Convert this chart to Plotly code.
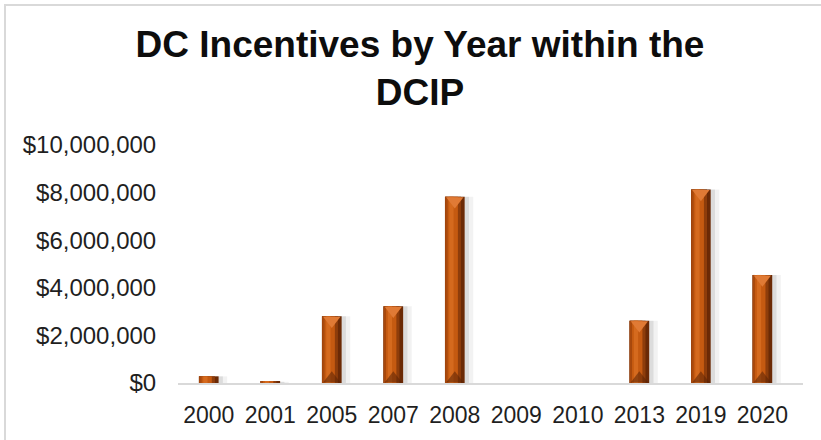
import plotly.graph_objects as go

# ---- data ----
years = ["2000", "2001", "2005", "2007", "2008", "2009", "2010", "2013", "2019", "2020"]
incentives = [280000, 50000, 2800000, 3220000, 7830000, 0, 0, 2620000, 8130000, 4540000]
y_ticks = [0, 2000000, 4000000, 6000000, 8000000, 10000000]
y_tick_labels = ["$0", "$2,000,000", "$4,000,000", "$6,000,000", "$8,000,000", "$10,000,000"]
title_text = "DC Incentives by Year within the<br>DCIP"

# ---- layout constants (pixels) ----
W, H = 821, 440
L, R, T, B = 178, 18, 145, 57
YMAX = 10000000
plot_h = H - T - B
data_per_px = YMAX / plot_h

fig = go.Figure()

def layer(offset, width, color):
    fig.add_trace(go.Bar(
        x=years, y=incentives, offset=offset, width=width,
        marker=dict(color=color, line=dict(width=0)),
        hoverinfo="skip", showlegend=False))

# soft shadow to the right
layer(-0.12, 0.42, "rgba(0,0,0,0.05)")
layer(-0.13, 0.36, "rgba(0,0,0,0.09)")
# bar body with bevelled look
layer(-0.16, 0.32, "#6B2A06")
layer(-0.16, 0.26, "#8E3D0B")
layer(-0.155, 0.035, "#A9490D")
layer(-0.12, 0.17, "#C55A11")
layer(-0.09, 0.07, "#D56A1E")

# bevel triangles at top / bottom for taller bars
tall_x = [x for x, v in zip(years, incentives) if v > 1000000]
tall_v = [v for v in incentives if v > 1000000]
tri_size = 15
r = tri_size / 2
fig.add_trace(go.Scatter(
    x=tall_x, y=[v - (r / 2 + 0.5) * data_per_px for v in tall_v], mode="markers",
    marker=dict(symbol="triangle-down", size=tri_size, color="#E07A35", line=dict(width=0)),
    hoverinfo="skip", showlegend=False, cliponaxis=False))
fig.add_trace(go.Scatter(
    x=tall_x, y=[(r / 2 + 0.5) * data_per_px for _ in tall_v], mode="markers",
    marker=dict(symbol="triangle-up", size=tri_size, color="rgba(90,35,5,0.55)", line=dict(width=0)),
    hoverinfo="skip", showlegend=False, cliponaxis=False))

fig.update_layout(
    width=W, height=H,
    margin=dict(l=L, r=R, t=T, b=B, autoexpand=False),
    paper_bgcolor="white", plot_bgcolor="white",
    barmode="overlay",
    font=dict(family="Liberation Sans, Arial, sans-serif", color="#1F1F1F"),
    title=dict(text=title_text, x=420 / W, xanchor="center", xref="container",
               y=1 - 57 / H, yanchor="top", yref="container", automargin=False,
               font=dict(size=37, color="#0D0D0D", family="Liberation Sans, Arial, sans-serif", weight="bold")),
    xaxis=dict(type="category", showgrid=False, zeroline=False, automargin=False,
               showline=True, linecolor="#D9D9D9", linewidth=2,
               ticks="outside", ticklen=10, tickcolor="rgba(0,0,0,0)",
               tickfont=dict(size=23, color="#1F1F1F"), fixedrange=True),
    yaxis=dict(range=[0, YMAX], tickvals=y_ticks, ticktext=y_tick_labels, automargin=False,
               showgrid=False, zeroline=False, showline=False,
               ticks="outside", ticklen=16, tickcolor="rgba(0,0,0,0)",
               tickfont=dict(size=24, color="#1F1F1F"), fixedrange=True),
    shapes=[dict(type="rect", xref="paper", yref="paper",
                 x0=(5 - L) / (W - L - R), x1=(W + 20 - L) / (W - L - R),
                 y0=(H - B - (H + 20)) / plot_h, y1=(H - B - 5) / plot_h,
                 line=dict(color="#D9D9D9", width=2), fillcolor="rgba(0,0,0,0)", layer="below")],
)

fig.write_html("out.html", config={"displayModeBar": False},
               post_script="document.body.style.margin='0';")
